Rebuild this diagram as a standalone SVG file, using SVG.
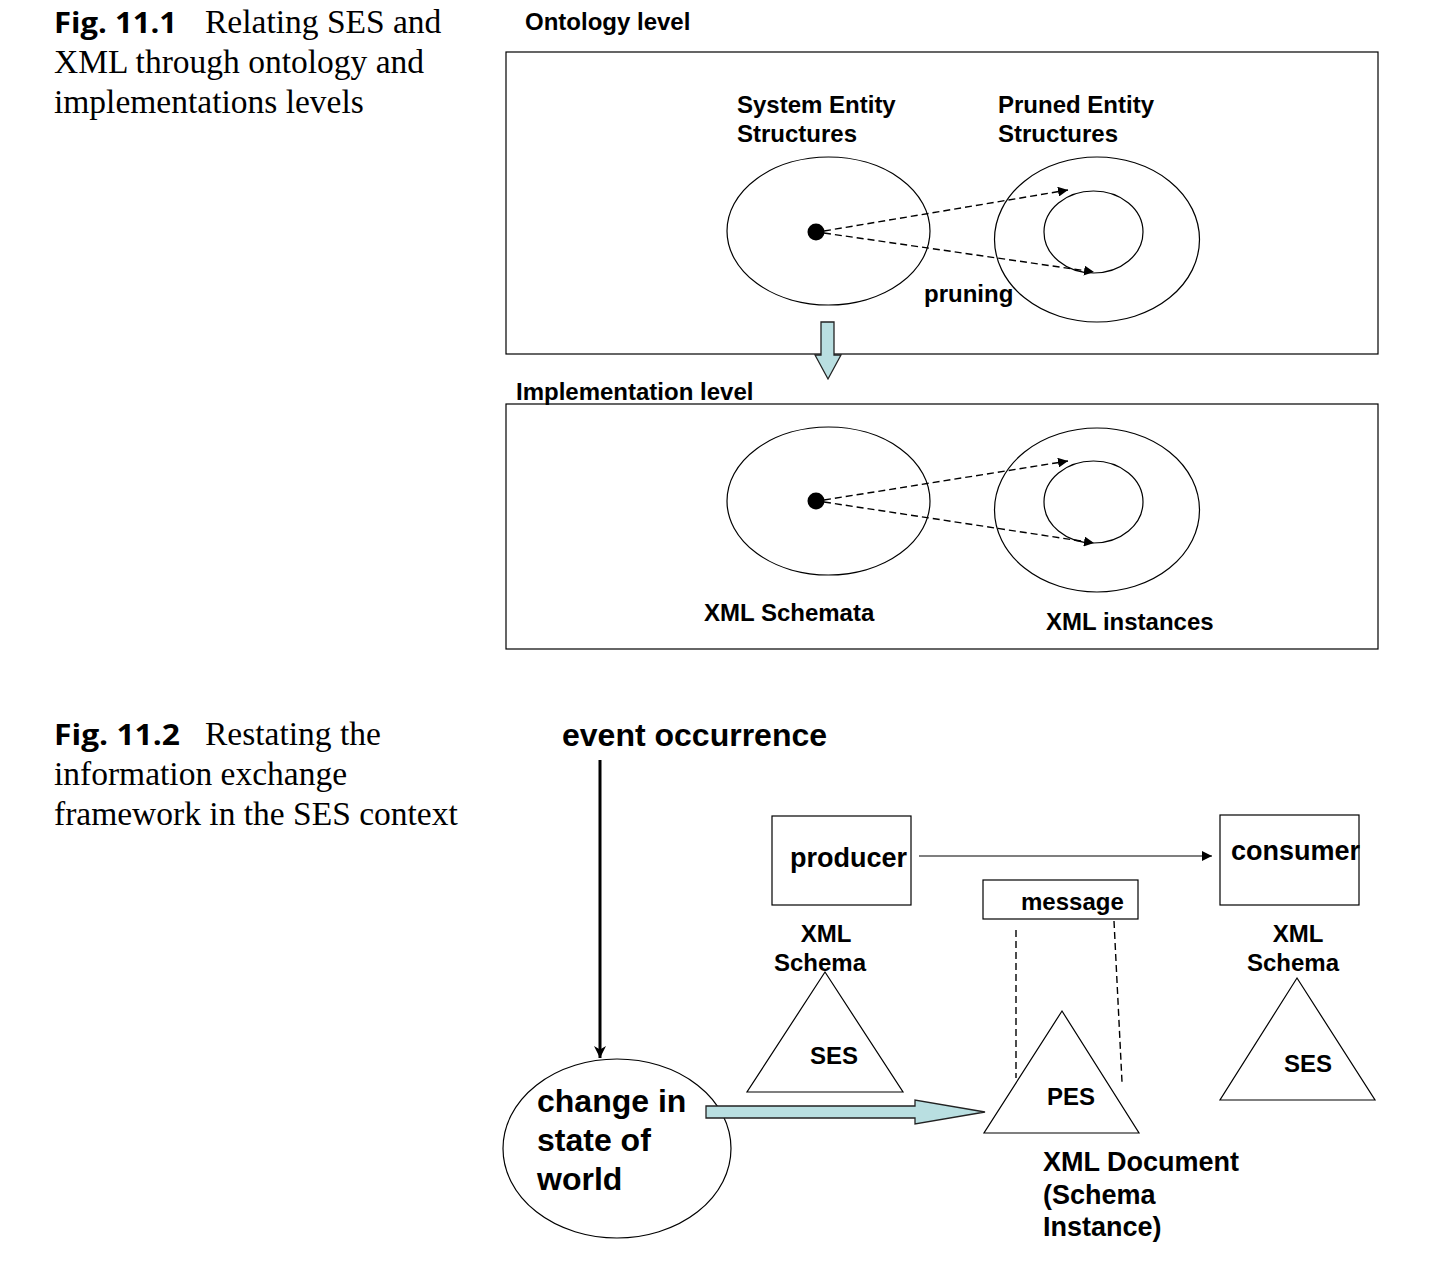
<svg xmlns="http://www.w3.org/2000/svg" width="1435" height="1269" viewBox="0 0 1435 1269">
<style>
.lbl{font-family:"Liberation Sans",Arial,sans-serif;font-weight:bold;fill:#000}
.cap{font-family:"Liberation Serif","Times New Roman",serif;font-size:33.5px;fill:#000}
.fig{font-family:"Open Sans","Noto Sans",sans-serif;font-weight:700;font-size:29px;fill:#000}
.ln{fill:none;stroke:#000;stroke-width:1.2}
.dash{fill:none;stroke:#000;stroke-width:1.4;stroke-dasharray:7,4}
.blue{fill:#b9dfe1;stroke:#222;stroke-width:1.3}
</style>
<defs>
<marker id="ah" viewBox="0 0 10 10" refX="10" refY="5" markerWidth="10" markerHeight="10" markerUnits="userSpaceOnUse" orient="auto">
<path d="M0,0 L10,5 L0,10 z" fill="#000"/>
</marker>
<marker id="ahb" viewBox="0 0 10 10" refX="10" refY="5" markerWidth="12" markerHeight="12" markerUnits="userSpaceOnUse" orient="auto">
<path d="M0,0 L10,5 L0,10 L3,5 z" fill="#000"/>
</marker>
</defs>

<!-- captions -->
<g id="caption1">
<text class="fig" x="54" y="33" textLength="123" lengthAdjust="spacingAndGlyphs">Fig. 11.1</text>
<text class="cap" x="205" y="33">Relating SES and</text>
<text class="cap" x="54" y="73">XML through ontology and</text>
<text class="cap" x="54" y="113">implementations levels</text>
</g>
<g id="caption2">
<text class="fig" x="54" y="745" textLength="126" lengthAdjust="spacingAndGlyphs">Fig. 11.2</text>
<text class="cap" x="205" y="745">Restating the</text>
<text class="cap" x="54" y="785">information exchange</text>
<text class="cap" x="54" y="825">framework in the SES context</text>
</g>

<!-- Fig 11.1 -->
<g id="ontology-level">
<text class="lbl" x="525" y="30" font-size="24">Ontology level</text>
<rect class="ln" x="506" y="52" width="872" height="302"/>
</g>
<g id="ses-set">
<ellipse class="ln" cx="828.5" cy="231" rx="101.5" ry="74"/>
<circle cx="816" cy="232" r="8.5" fill="#000"/>
<text class="lbl" x="737" y="113" font-size="24">System Entity</text>
<text class="lbl" x="737" y="142" font-size="24">Structures</text>
</g>
<g id="pes-set">
<ellipse class="ln" cx="1097" cy="239.5" rx="102.5" ry="82.5"/>
<ellipse class="ln" cx="1093.5" cy="232" rx="49.5" ry="41"/>
<text class="lbl" x="998" y="113" font-size="24">Pruned Entity</text>
<text class="lbl" x="998" y="142" font-size="24">Structures</text>
</g>
<text class="lbl" x="924" y="302" font-size="24">pruning</text>

<g id="implementation-level">
<text class="lbl" x="516" y="400" font-size="24">Implementation level</text>
<rect class="ln" x="506" y="404" width="872" height="245"/>
</g>
<g id="xml-schemata">
<ellipse class="ln" cx="828.5" cy="501" rx="101.5" ry="74"/>
<circle cx="816" cy="501" r="8.5" fill="#000"/>
<text class="lbl" x="704" y="621" font-size="24">XML Schemata</text>
</g>
<g id="xml-instances">
<ellipse class="ln" cx="1097" cy="510" rx="102.5" ry="82"/>
<ellipse class="ln" cx="1093.5" cy="502" rx="49.5" ry="41"/>
<text class="lbl" x="1046" y="630" font-size="24">XML instances</text>
</g>

<!-- Fig 11.2 nodes -->
<g id="event">
<text class="lbl" x="562" y="746" font-size="32">event occurrence</text>
</g>
<g id="producer">
<rect class="ln" x="772" y="816" width="139" height="89"/>
<text class="lbl" x="790" y="867" font-size="27">producer</text>
</g>
<g id="consumer">
<rect class="ln" x="1220" y="815" width="139" height="90"/>
<text class="lbl" x="1231" y="860" font-size="27">consumer</text>
</g>
<g id="message">
<rect class="ln" x="983" y="880" width="155" height="39"/>
<text class="lbl" x="1021" y="910" font-size="24">message</text>
</g>
<g id="ses-left">
<text class="lbl" x="826" y="942" font-size="24" text-anchor="middle">XML</text>
<text class="lbl" x="820" y="971" font-size="24" text-anchor="middle">Schema</text>
<polygon class="ln" points="825,972 903,1092 747,1092"/>
<text class="lbl" x="810" y="1064" font-size="24">SES</text>
</g>
<g id="ses-right">
<text class="lbl" x="1298" y="942" font-size="24" text-anchor="middle">XML</text>
<text class="lbl" x="1293" y="971" font-size="24" text-anchor="middle">Schema</text>
<polygon class="ln" points="1297,978 1375,1100 1220,1100"/>
<text class="lbl" x="1284" y="1072" font-size="24">SES</text>
</g>
<g id="pes">
<polygon class="ln" points="1062,1011 1139,1133 984,1133"/>
<text class="lbl" x="1047" y="1105" font-size="24">PES</text>
<text class="lbl" x="1043" y="1171" font-size="27">XML Document</text>
<text class="lbl" x="1043" y="1204" font-size="27">(Schema</text>
<text class="lbl" x="1043" y="1236" font-size="27">Instance)</text>
</g>
<g id="change">
<ellipse class="ln" cx="617" cy="1148.5" rx="114" ry="89.5"/>
<text class="lbl" x="537" y="1112" font-size="32">change in</text>
<text class="lbl" x="537" y="1151" font-size="32">state of</text>
<text class="lbl" x="537" y="1190" font-size="32">world</text>
</g>

<!-- connectors -->
<g id="connectors">
<line class="dash" x1="824" y1="231" x2="1068" y2="190" marker-end="url(#ah)"/>
<line class="dash" x1="824" y1="233" x2="1094" y2="272" marker-end="url(#ah)"/>
<line class="dash" x1="824" y1="500" x2="1068" y2="461" marker-end="url(#ah)"/>
<line class="dash" x1="824" y1="502" x2="1094" y2="543" marker-end="url(#ah)"/>
<polygon class="blue" points="821,322 834,322 834,355 841,355 828,379 815,355 821,355"/>
<line x1="600" y1="760" x2="600" y2="1058" stroke="#000" stroke-width="3" marker-end="url(#ahb)"/>
<line class="ln" x1="919" y1="856" x2="1212" y2="856" marker-end="url(#ah)"/>
<line class="dash" x1="1016" y1="930" x2="1016" y2="1078" stroke-width="1"/>
<line class="dash" x1="1114" y1="921" x2="1122" y2="1082" stroke-width="1"/>
<polygon class="blue" points="706,1106 915,1106 915,1100 985,1112 915,1124 915,1118 706,1118"/>
</g>
</svg>
